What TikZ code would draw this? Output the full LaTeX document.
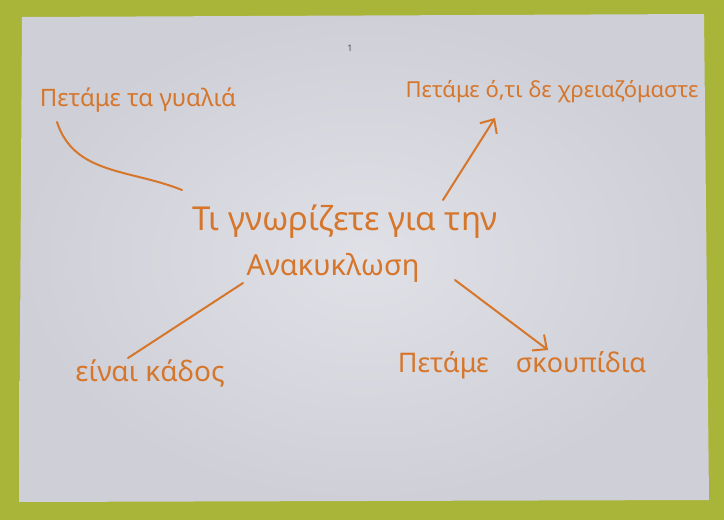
\documentclass[tikz,border=0pt]{standalone}
\usepackage{fontspec}
\setmainfont{Noto Sans}
\usetikzlibrary{arrows.meta,positioning}
\definecolor{felt}{HTML}{A9B538}
\definecolor{paper}{HTML}{E0E0E7}
\definecolor{paperedge}{HTML}{CFCFD7}
\definecolor{ink}{HTML}{D6762B}
\begin{document}
\begin{tikzpicture}[x=1pt,y=-1pt]
		\tikzstyle{idea}=[inner sep=0pt,text=ink,font=\fontsize{24}{28}\selectfont]
		\tikzstyle{topic}=[inner sep=0pt,text=ink,font=\fontsize{33}{38}\selectfont]
		\tikzstyle{link}=[ink,line width=2pt,line cap=round]
		\tikzstyle{pointer}=[link,arrows={-Straight Barb[length=11pt,width=20pt,line width=2pt]}]
		
		% background and sheet
		\fill[felt] (0,0) rectangle (724,520);
		\shade[inner color=paper,outer color=paperedge] (22,17) -- (704,14) -- (709,500) -- (19,502) -- cycle;
		\node[inner sep=0pt,text=black!70,font=\small] (pagemark) at (350,48) {1};
		
		% centre
		\node[topic] (title) at (345,222) {Τι γνωρίζετε για την};
		\node[topic,font=\fontsize{29}{33}\selectfont] (subject) at (333,268) {Ανακυκλωση};
		
		% branches
		\node[idea] (glass) at (138,100) {Πετάμε τα γυαλιά};
		\node[idea,font=\fontsize{22}{26}\selectfont] (unneeded) at (552,92) {Πετάμε ό,τι δε χρειαζόμαστε};
		\node[idea,font=\fontsize{28}{32}\selectfont] (bin) at (150,373) {είναι κάδος};
		\node[idea,font=\fontsize{27}{31}\selectfont] (rubbish) at (522,365) {Πετάμε\quad σκουπίδια};
		
		\draw [link] ([shift={(-81,22)}]glass.center) to[out=-72,in=158] ([shift={(-163,-32)}]title.center);
		\draw [pointer] ([shift={(98,-22)}]title.center) -- ([shift={(-57,26)}]unneeded.center);
		\draw [link] ([shift={(-90,15)}]subject.center) -- ([shift={(-22,-15)}]bin.center);
		\draw [pointer] ([shift={(122,12)}]subject.center) -- ([shift={(26,-15)}]rubbish.center);
\end{tikzpicture}
\end{document}
